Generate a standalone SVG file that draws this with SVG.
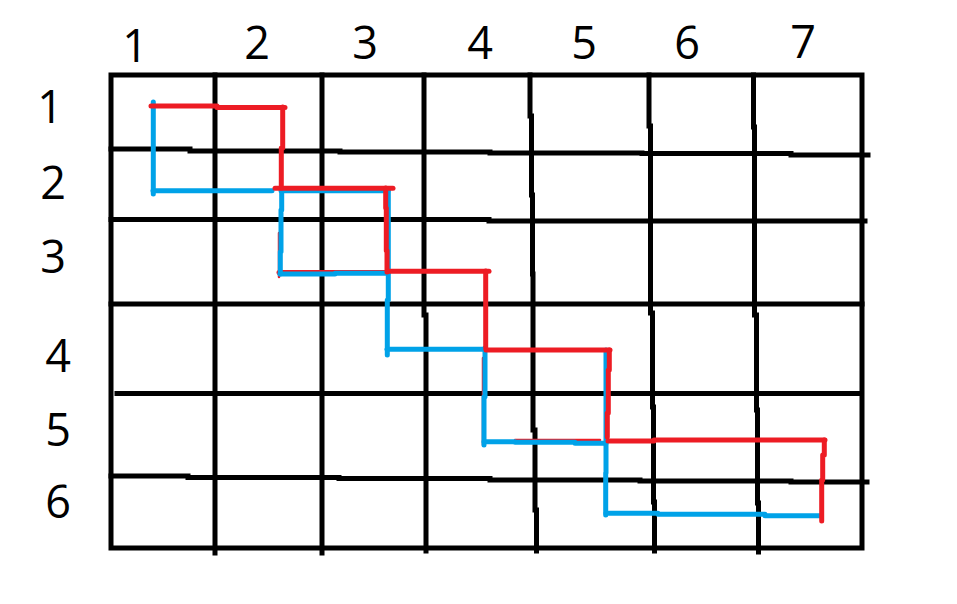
<svg xmlns="http://www.w3.org/2000/svg" width="957" height="604" viewBox="0 0 957 604">
<style>
.g{fill:none;stroke:#000;stroke-width:5;stroke-linecap:square;stroke-linejoin:miter}
.r{fill:none;stroke:#ED1C24;stroke-width:5;stroke-linecap:round;stroke-linejoin:round}
.rs{fill:none;stroke:#ED1C24;stroke-width:2.5;stroke-linecap:round}
.b{fill:none;stroke:#00A2E8;stroke-width:5;stroke-linecap:round;stroke-linejoin:round}
.t{font-family:"Open Sans","Noto Sans","DejaVu Sans",sans-serif;font-size:45px;fill:#000;text-anchor:middle}
</style>
<rect width="957" height="604" fill="#fff"/>
<g id="grid">
<path class="g" d="M111,75 H862 V548 H111 Z"/>
<path class="g" d="M215,75 V553"/>
<path class="g" d="M322,75 V553"/>
<path class="g" d="M424,75 V315 H426 V551"/>
<path class="g" d="M530,75 V116 H531.5 V195 H532.5 V274 H533 V430 H535 V510 H536.5 V551"/>
<path class="g" d="M649,75 V126 H650.5 V313 H652.5 V407 H653.5 V502 H654.5 V551"/>
<path class="g" d="M753.5,75 V127 H754.5 V315 H756.5 V410 H757.5 V503 H758.5 V552"/>
<path class="g" d="M111,149 H190 V151 H340 V152 H490 V153 H642 V153.5 H791 V155 H868"/>
<path class="g" d="M111,219.5 H489 V221 H865"/>
<path class="g" d="M111,304 H862"/>
<path class="g" d="M117,393.5 H858"/>
<path class="g" d="M111,476 H188 V477.5 H339 V478.5 H490 V480 H640 V481 H791 V482 H867"/>
</g>
<g id="labels">
<text class="t" x="135" y="62">1</text>
<text class="t" x="257" y="59">2</text>
<text class="t" x="365" y="59">3</text>
<text class="t" x="480" y="59">4</text>
<text class="t" x="584" y="59">5</text>
<text class="t" x="687" y="59">6</text>
<text class="t" x="803" y="58">7</text>
<text class="t" x="50" y="123">1</text>
<text class="t" x="53" y="199">2</text>
<text class="t" x="53" y="273">3</text>
<text class="t" x="58" y="372">4</text>
<text class="t" x="58" y="446">5</text>
<text class="t" x="58" y="518">6</text>
</g>
<g id="connectors">
<g id="red-under">
<path class="rs" d="M279,233 V277"/>
<path class="rs" d="M483,358 V445"/>
<path class="rs" d="M515,440 H600"/>
<path class="r" d="M279,272.5 H388"/>
</g>
<g id="blue-path">
<path class="b" d="M153.3,102 V194"/>
<path class="b" d="M153,190.7 H272"/>
<path class="b" d="M281.7,188 V210 H281 V251.7 H280.3 V274"/>
<path class="b" d="M281,190.7 H388"/>
<path class="b" d="M280,274 H335 V273.3 H388"/>
<path class="b" d="M388.3,190 V300 H387.3 V355"/>
<path class="b" d="M387,349.3 H486"/>
<path class="b" d="M485,348 V396.7 H484 V445"/>
<path class="b" d="M484,441.7 H515 V442.3 H575 V443.3 H606"/>
<path class="b" d="M606,350 V473 H605.7 V515"/>
<path class="b" d="M606,513.3 H658 V514.3 H765 V515.7 H820"/>
</g>
<g id="red-path">
<path class="r" d="M151,106 H217 V107.5 H285"/>
<path class="r" d="M282.7,107 V148 H281.3 V188"/>
<path class="r" d="M275,188.3 H393"/>
<path class="r" d="M385.7,188 V208 H386.3 V250.7 H387 V272"/>
<path class="r" d="M388,271.3 H489"/>
<path class="r" d="M485.7,271 V348"/>
<path class="r" d="M486,350 H610"/>
<path class="r" d="M609.3,350 V370 H608.3 V413 H607.3 V437"/>
<path class="r" d="M608,441 H654 V440 H825"/>
<path class="r" d="M824.3,440 V455 H822.7 V480 H821.7 V521"/>
</g>
</g>
</svg>
